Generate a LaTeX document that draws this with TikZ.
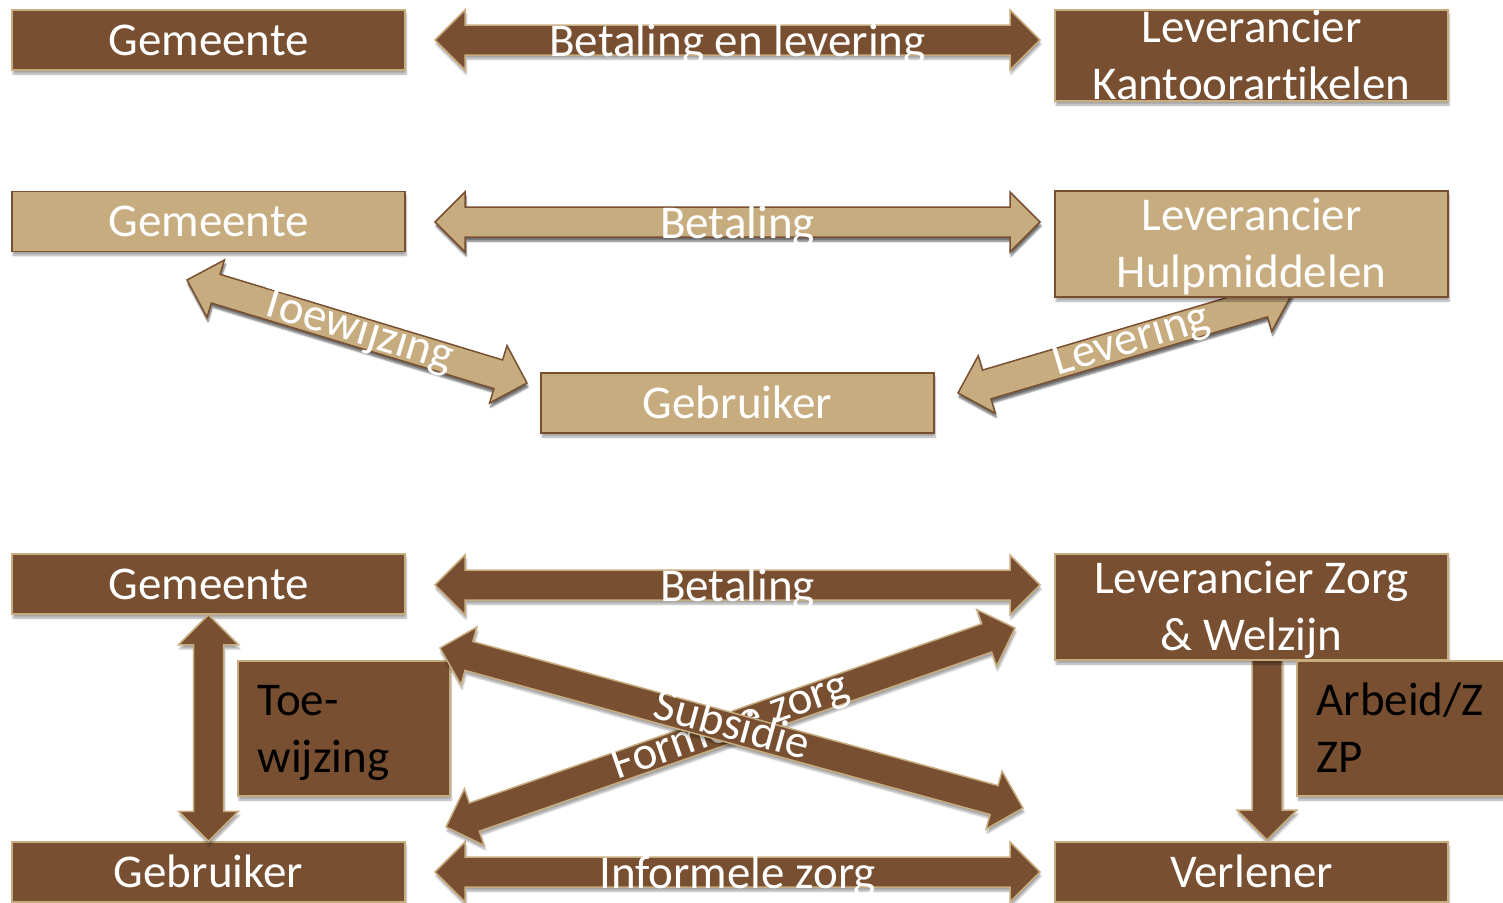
\documentclass[tikz,border=0pt]{standalone}
\usepackage{fontspec}
\setmainfont[Ligatures=NoCommon]{Carlito}
\usetikzlibrary{calc,shadows.blur}

\definecolor{bruin}{RGB}{120,80,49}
\definecolor{zand}{RGB}{199,172,128}

\tikzset{
  schaduw/.style={blur shadow={shadow blur steps=6,shadow xshift=1pt,
      shadow yshift=-4pt,shadow opacity=35}},
  blok/.style={rectangle,minimum width=393,minimum height=60,line width=1.5,schaduw},
  donker/.style={blok,fill=bruin,draw=zand},
  licht/.style={blok,fill=zand,draw=bruin},
  tekst/.style={text=white,font=\fontsize{47}{57}\selectfont,align=center,inner sep=0},
  zwart/.style={tekst,text=black,align=left,anchor=west},
  pijl/.style={fill=bruin,draw=zand,line width=1.5,schaduw},
  lichtpijl/.style={pijl,fill=zand,draw=bruin},
}

% brede pijl met een punt aan beide kanten
\newcommand\dubbelpijl[3][]{%
  \draw[pijl,#1] (#2)
    -- ($(#2)!30pt!(#3)!30pt!90:(#3)$)
    -- ($(#2)!30pt!(#3)!15pt!90:(#3)$)
    -- ($(#3)!30pt!(#2)!15pt!-90:(#2)$)
    -- ($(#3)!30pt!(#2)!30pt!-90:(#2)$)
    -- (#3)
    -- ($(#3)!30pt!(#2)!30pt!90:(#2)$)
    -- ($(#3)!30pt!(#2)!15pt!90:(#2)$)
    -- ($(#2)!30pt!(#3)!15pt!-90:(#3)$)
    -- ($(#2)!30pt!(#3)!30pt!-90:(#3)$)
    -- cycle;}
% brede pijl met een punt
\newcommand\enkelpijl[3][]{%
  \draw[pijl,#1] ($(#2)!15pt!90:(#3)$)
    -- ($(#3)!30pt!(#2)!15pt!-90:(#2)$)
    -- ($(#3)!30pt!(#2)!30pt!-90:(#2)$)
    -- (#3)
    -- ($(#3)!30pt!(#2)!30pt!90:(#2)$)
    -- ($(#3)!30pt!(#2)!15pt!90:(#2)$)
    -- ($(#2)!15pt!-90:(#3)$)
    -- cycle;}

\begin{document}
\begin{tikzpicture}[x=1pt,y=-1pt]
\clip (0,0) rectangle (1503,902);

% eindpunten van de pijlen
\coordinate (r1l) at (435,40);
\coordinate (r1r) at (1040,40);
\coordinate (r2l) at (435,222);
\coordinate (r2r) at (1040,222);
\coordinate (tw1) at (187,280);
\coordinate (tw2) at (527,383);
\coordinate (lv1) at (958,393);
\coordinate (lv2) at (1292,294);
\coordinate (r3l) at (435,585);
\coordinate (r3r) at (1040,585);
\coordinate (sb1) at (440,648);
\coordinate (sb2) at (1023,808);
\coordinate (fz1) at (446,827);
\coordinate (fz2) at (1015,628);
\coordinate (iz1) at (435,872);
\coordinate (iz2) at (1040,872);
\coordinate (az1) at (1267,660);
\coordinate (az2) at (1267,840);

% pijlen
\dubbelpijl{r1l}{r1r}
\dubbelpijl[lichtpijl]{r2l}{r2r}
\dubbelpijl[lichtpijl]{tw1}{tw2}
\dubbelpijl[lichtpijl]{lv1}{lv2}
\dubbelpijl{r3l}{r3r}
\dubbelpijl{iz1}{iz2}
\enkelpijl{az1}{az2}

% blokken
\node[donker] (gem1) at (208.5,40) {};
\node[donker,minimum height=91] (lev1) at (1251.5,55.5) {};
\node[licht] (gem2) at (208.5,221.5) {};
\node[licht,minimum height=106] (lev2) at (1251.5,244) {};
\node[licht] (geb2) at (737.5,403) {};
\node[donker] (gem3) at (208.5,584) {};
\node[donker,minimum height=106] (lzw) at (1251.5,607) {};
\node[donker] (geb3) at (208.5,872) {};
\node[donker] (verl) at (1251.5,872) {};
\node[donker,minimum width=212,minimum height=135] (toew) at (344,728.5) {};
\node[donker,minimum width=212,minimum height=135] (arb) at (1403,728.5) {};

\dubbelpijl{gem3.south}{geb3.north}

% teksten in de blokken
\node[tekst] at ($(gem1)+(0,4)$) {\strut Gemeente};
\node[tekst] at ($(lev1)+(0,4)$) {\strut Leverancier\\\strut Kantoorartikelen};
\node[tekst] at ($(gem2)+(0,4)$) {\strut Gemeente};
\node[tekst] at ($(lev2)+(0,4)$) {\strut Leverancier\\\strut Hulpmiddelen};
\node[tekst] at ($(geb2)+(0,4)$) {\strut Gebruiker};
\node[tekst] at ($(gem3)+(0,4)$) {\strut Gemeente};
\node[tekst] at ($(lzw)+(0,4)$) {\strut Leverancier Zorg\\\strut \& Welzijn};
\node[tekst] at ($(geb3)+(0,4)$) {\strut Gebruiker};
\node[tekst] at ($(verl)+(0,4)$) {\strut Verlener};
\node[zwart] at ($(toew.west)+(20,4)$) {\strut Toe-\\\strut wijzing};
\node[zwart] at ($(arb.west)+(20,4)$) {\strut Arbeid/Z\\\strut ZP};

% teksten op de pijlen
\node[tekst] at ($(r1l)!0.5!(r1r)+(0,5)$) {\strut Betaling en levering};
\node[tekst] at ($(r2l)!0.5!(r2r)+(0,5)$) {\strut Betaling};
\node[tekst,rotate=-16.9] at ($(tw1)!0.5!(tw2)$) {\strut Toewijzing};
\node[tekst,rotate=16.5] at ($(lv1)!0.52!(lv2)$) {\strut Levering};
\node[tekst] at ($(r3l)!0.5!(r3r)+(0,5)$) {\strut Betaling};
\node[tekst] at ($(iz1)!0.5!(iz2)+(0,5)$) {\strut Informele zorg};

% de kruisende pijlen, subsidie bovenop
\dubbelpijl{fz1}{fz2}
\node[tekst,rotate=19.3] at ($(fz1)!0.5!(fz2)$) {\strut Formele zorg};
\dubbelpijl{sb1}{sb2}
\node[tekst,rotate=-15.4] at ($(sb1)!0.5!(sb2)$) {\strut Subsidie};
\end{tikzpicture}
\end{document}
